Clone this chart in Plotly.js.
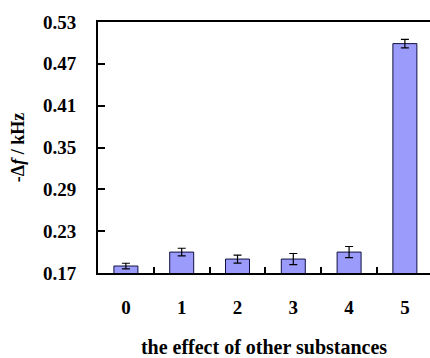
<!DOCTYPE html>
<html>
<head>
<meta charset="utf-8">
<script src="https://cdn.plot.ly/plotly-3.0.1.min.js"></script>
<style>html,body{margin:0;padding:0;background:#fff;}#chart{width:430px;height:358px;}</style>
</head>
<body>
<div id="chart"></div>
<script>
var categories = ["0", "1", "2", "3", "4", "5"];
var values = [0.180, 0.200, 0.190, 0.190, 0.200, 0.499];
var errors = [0.004, 0.0055, 0.0057, 0.008, 0.008, 0.006];
var yTicks = [0.17, 0.23, 0.29, 0.35, 0.41, 0.47, 0.53];

var fam = "Liberation Serif";

Plotly.newPlot("chart", [{
  type: "bar",
  x: categories,
  y: values,
  width: 0.43,
  marker: {color: "#9b9bfb", line: {color: "#101040", width: 1}},
  error_y: {type: "data", array: errors, visible: true, color: "#000", thickness: 1.2, width: 4}
}], {
  width: 430, height: 358,
  margin: {l: 98, r: 0, t: 22, b: 85},
  paper_bgcolor: "#fff", plot_bgcolor: "#fff",
  showlegend: false,
  xaxis: {
    type: "category",
    range: [-0.5, 5.45],
    showline: true, linecolor: "#000", linewidth: 2, mirror: true,
    ticks: "inside", ticklen: 6, tickwidth: 2, tickcolor: "#000",
    tickson: "boundaries",
    showgrid: false, zeroline: false,
    ticklabelstandoff: 16,
    tickfont: {family: fam, size: 19, weight: "bold", color: "#000"},
    title: {text: "the effect of other substances", standoff: 23,
            font: {family: fam, size: 20, weight: "bold", color: "#000"}}
  },
  yaxis: {
    range: [0.17, 0.53],
    tickvals: yTicks,
    tickformat: ".2f",
    showline: true, linecolor: "#000", linewidth: 2,
    ticks: "inside", ticklen: 7, tickwidth: 2, tickcolor: "#000",
    showgrid: false, zeroline: false,
    ticklabelstandoff: 16,
    tickfont: {family: fam, size: 19, weight: "bold", color: "#000"},
    title: {text: "-Δ<i>f</i> / kHz", standoff: 14,
            font: {family: fam, size: 18, weight: "bold", color: "#000"}}
  }
}, {displayModeBar: false, staticPlot: true});
</script>
</body>
</html>
